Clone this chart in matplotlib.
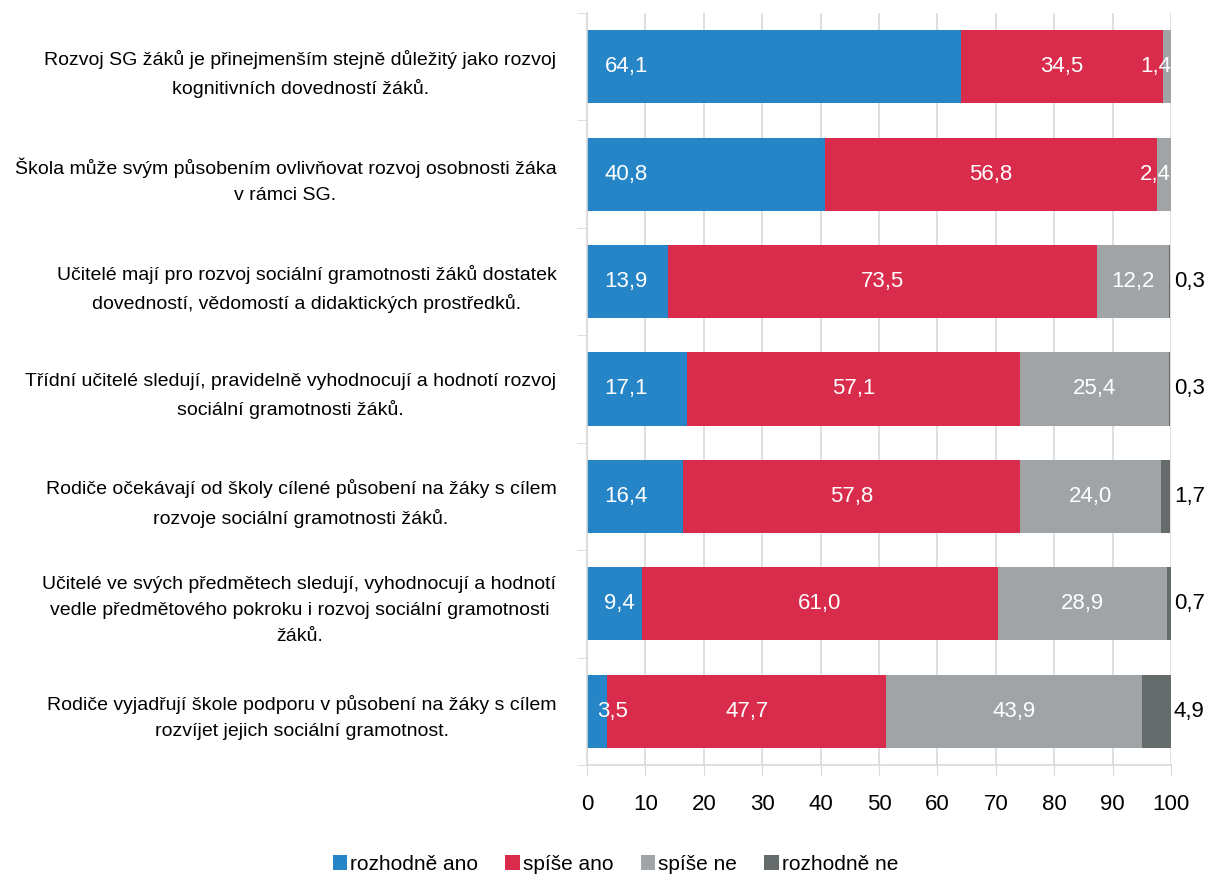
import matplotlib.pyplot as plt
import numpy as np

plt.rcParams['font.family'] = ['Liberation Sans', 'DejaVu Sans']

categories = [
    'Rozvoj SG žáků je přinejmenším stejně důležitý jako rozvoj\nkognitivních dovedností žáků.',
    'Škola může svým působením ovlivňovat rozvoj osobnosti žáka\nv rámci SG.',
    'Učitelé mají pro rozvoj sociální gramotnosti žáků dostatek\ndovedností, vědomostí a didaktických prostředků.',
    'Třídní učitelé sledují, pravidelně vyhodnocují a hodnotí rozvoj\nsociální gramotnosti žáků.',
    'Rodiče očekávají od školy cílené působení na žáky s cílem\nrozvoje sociální gramotnosti žáků.',
    'Učitelé ve svých předmětech sledují, vyhodnocují a hodnotí\nvedle předmětového pokroku i rozvoj sociální gramotnosti\nžáků.',
    'Rodiče vyjadřují škole podporu v působení na žáky s cílem\nrozvíjet jejich sociální gramotnost.',
]
rozhodne_ano = [64.1, 40.8, 13.9, 17.1, 16.4, 9.4, 3.5]
spise_ano = [34.5, 56.8, 73.5, 57.1, 57.8, 61.0, 47.7]
spise_ne = [1.4, 2.4, 12.2, 25.4, 24.0, 28.9, 43.9]
rozhodne_ne = [0.0, 0.0, 0.3, 0.3, 1.7, 0.7, 4.9]

series = [rozhodne_ano, spise_ano, spise_ne, rozhodne_ne]
names = ['rozhodně ano', 'spíše ano', 'spíše ne', 'rozhodně ne']
colors = ['#2585C7', '#D92B4B', '#A0A4A6', '#656B6B']

def fmt(v):
    return ('%.1f' % v).replace('.', ',')

fig = plt.figure(figsize=(12.07, 8.77), dpi=100)
ax = fig.add_axes([0.4863, 0.1277, 0.4839, 0.8575])

y = np.arange(len(categories))
left = np.zeros(len(categories))
fs = 16
for k, (vals, name, col) in enumerate(zip(series, names, colors)):
    vals = np.array(vals)
    ax.barh(y, vals, left=left, height=0.68, color=col, label=name, zorder=2)
    for i, v in enumerate(vals):
        if v == 0:
            continue
        if k == 0:
            # inside base
            ax.text(min(3, v / 2), i, fmt(v), ha='left', va='center',
                    color='white', fontsize=fs, zorder=3)
        elif k == 3:
            ax.text(100.5, i, fmt(v), ha='left', va='center',
                    color='black', fontsize=fs, zorder=3, clip_on=False)
        elif v < 5:
            # too narrow: keep label inside the plot
            ax.text(left[i] + v, i, fmt(v), ha='right', va='center',
                    color='white', fontsize=fs, zorder=3)
        else:
            ax.text(left[i] + v / 2, i, fmt(v), ha='center', va='center',
                    color='white', fontsize=fs, zorder=3)
    left += vals

ax.set_xlim(0, 100)
ax.set_ylim(len(categories) - 0.5, -0.5)
ax.set_xticks(np.arange(0, 101, 10))
ax.set_yticks(y)
ax.set_yticklabels(categories, fontsize=14, multialignment='center', linespacing=1.7)
ax.set_yticks(np.arange(-0.5, len(categories), 1), minor=True)
ax.tick_params(axis='y', which='major', length=0, pad=22)
ax.tick_params(axis='y', which='minor', length=7, color='#D9D9D9')
ax.tick_params(axis='x', length=7, color='#D9D9D9', labelsize=fs, pad=14)
ax.grid(axis='x', color='#D9D9D9', linewidth=1.2, zorder=0)
for s in ['top', 'right']:
    ax.spines[s].set_visible(False)
for s in ['left', 'bottom']:
    ax.spines[s].set_color('#D9D9D9')
    ax.spines[s].set_linewidth(1.2)

fig.legend(loc='lower center', ncol=4, frameon=False, fontsize=15,
           bbox_to_anchor=(0.51, -0.018), handlelength=0.7, handleheight=0.7,
           handletextpad=0.15, columnspacing=1.3)

plt.savefig('out.png', dpi=100)
